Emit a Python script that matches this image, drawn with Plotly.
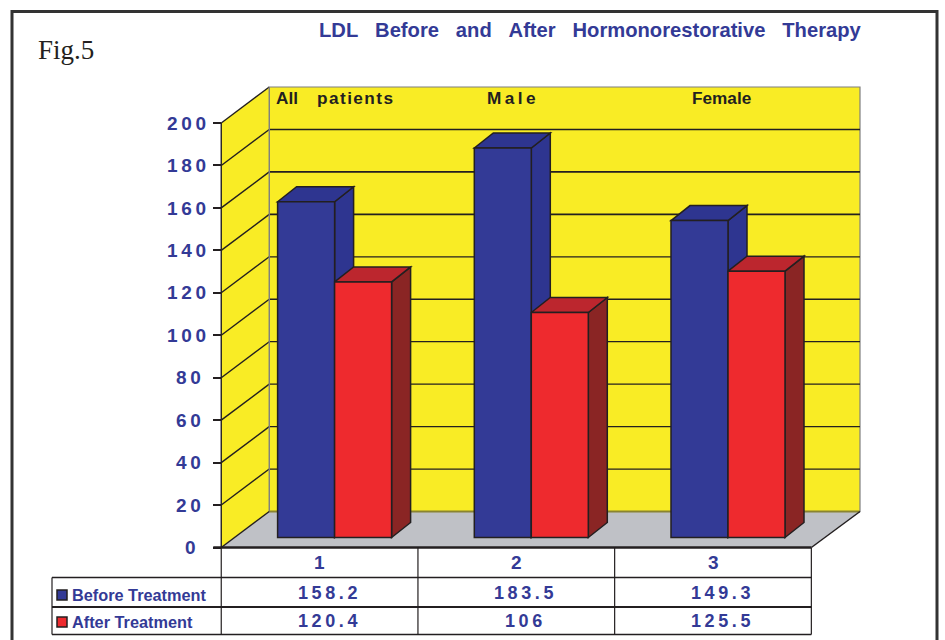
import plotly.graph_objects as go

# ---- data ----
categories = [1, 2, 3]
before_treatment = [158.2, 183.5, 149.3]
after_treatment = [120.4, 106, 125.5]
before_labels = ["158.2", "183.5", "149.3"]
after_labels = ["120.4", "106", "125.5"]
y_ticks = [0, 20, 40, 60, 80, 100, 120, 140, 160, 180, 200]
group_names = ["All\u00a0\u00a0\u00a0\u00a0p\u200aa\u200at\u200ai\u200ae\u200an\u200at\u200as", "Male", "Female"]
series_names = ["Before Treatment", "After Treatment"]
title_words = ["LDL", "Before", "and", "After", "Hormonorestorative", "Therapy"]

# ---- page / scale ----
W, H = 945, 640
PX_X0, PX_CAT = 319.6, 196.7      # pixel of category 1, pixels per category
PX_Y0, PX_UNIT = 547.5, 2.1225    # pixel of value 0, pixels per value unit


def xd(px):
    return 1 + (px - PX_X0) / PX_CAT


def yd(px):
    return (PX_Y0 - px) / PX_UNIT


def dx(px):
    return px / PX_CAT


def dy(px):
    return px / PX_UNIT


# ---- colours ----
INK = "#231f20"
TXT = "#333a96"
YEL = "#f9ec25"
FLOOR = "#bfc1c6"
GREY = "#7f7f7f"
BLUE, BLUE_TOP, BLUE_SIDE = "#333a96", "#2e3590", "#2e3590"
RED, RED_TOP, RED_SIDE = "#ee2a2e", "#bc262e", "#8a2524"

WALL_DX, WALL_DY = 48, 36
BAR_W = 57
BAR_OFF_X, BAR_OFF_Y = 15, 10
BAR_DX, BAR_DY = 19, 15

x_left = 0.5
x_right = 3.5
top_val = y_ticks[-1]


def poly(points, fill, line=INK, width=1.5):
    path = "M" + " L".join(f"{x:.5f},{y:.5f}" for x, y in points) + " Z"
    return dict(type="path", path=path, xref="x", yref="y", fillcolor=fill,
                line=dict(color=line, width=width), layer="below")


def seg(x0, y0, x1, y1, color=INK, width=1.2, layer="below"):
    return dict(type="line", xref="x", yref="y", x0=x0, y0=y0, x1=x1, y1=y1,
                line=dict(color=color, width=width), layer=layer)


wx, wy = dx(WALL_DX), dy(WALL_DY)
back_right = xd(860)
shapes = []
# back wall, left wall, floor
shapes.append(poly([(x_left + wx, wy), (back_right, wy), (back_right, top_val + wy),
                    (x_left + wx, top_val + wy)], YEL, GREY, 1.2))
shapes.append(poly([(x_left, 0), (x_left + wx, wy), (x_left + wx, top_val + wy), (x_left, top_val)],
                   YEL, "rgba(0,0,0,0)", 0))
for v in y_ticks[1:-1]:
    shapes.append(seg(x_left + wx, v + wy, back_right, v + wy, INK, 1.6 if v in (100, 140, 160, 180) else 1.2))
for v in y_ticks[1:]:
    shapes.append(seg(x_left, v, x_left + wx, v + wy, INK, 1.4))
shapes.append(seg(x_left, 0, x_left, top_val, INK, 1.4))
shapes.append(seg(x_left + wx, wy, x_left + wx, top_val + wy, GREY, 1.4))
shapes.append(poly([(x_left, 0), (x_left + wx, wy), (back_right, wy), (x_right, 0)], FLOOR, "rgba(0,0,0,0)", 0))
shapes.append(seg(x_left + wx, wy, back_right, wy, "#8a8430", 2))
shapes.append(seg(x_left, 0, x_left + wx, wy, INK, 1.5))
shapes.append(seg(x_right, 0, back_right, wy, INK, 1.5))

# bar depth faces, derived from the values
base = dy(BAR_OFF_Y)
bw = dx(BAR_W)
bdx, bdy = dx(BAR_DX), dy(BAR_DY)
off = dx(BAR_OFF_X)
for i, c in enumerate(categories):
    for vals, sgn, top_c, side_c in ((before_treatment, -1, BLUE_TOP, BLUE_SIDE),
                                     (after_treatment, 1, RED_TOP, RED_SIDE)):
        xc = c + off + sgn * bw / 2
        l, r = xc - bw / 2, xc + bw / 2
        t = base + vals[i]
        shapes.append(poly([(r, base), (r + bdx, base + bdy), (r + bdx, t + bdy), (r, t)], side_c))
        shapes.append(poly([(l, t), (l + bdx, t + bdy), (r + bdx, t + bdy), (r, t)], top_c))

# table grid
row_px = [547.5, 577.5, 607, 634.5]
table_left = xd(52)
for k, px in enumerate(row_px):
    shapes.append(seg(table_left if k else x_left - dx(8), yd(px), x_right, yd(px), INK,
                      2.6 if k == 0 else (1.8 if k == 2 else 1.3), "above"))
for k in range(4):
    xv = x_left + k
    shapes.append(seg(xv, yd(547.5), xv, yd(634.5), INK, 1.2, "above"))
shapes.append(seg(table_left, yd(577.5), table_left, yd(634.5), INK, 1.2, "above"))

# legend swatches
for py, col in ((595, BLUE), (622, RED)):
    shapes.append(dict(type="rect", xref="x", yref="y", x0=xd(57), x1=xd(67), y0=yd(py + 5), y1=yd(py - 5),
                       fillcolor=col, line=dict(color=INK, width=1.5), layer="above"))

# outer frame (paper coordinates)
shapes.append(dict(type="rect", xref="paper", yref="paper", x0=12 / W, x1=937 / W, y0=-0.05, y1=1 - 11.5 / H,
                   fillcolor="rgba(0,0,0,0)", line=dict(color="#333333", width=3), layer="above"))

fig = go.Figure()
fig.add_bar(x=[c + off - bw / 2 for c in categories], y=before_treatment, base=base, width=bw,
            name=series_names[0], marker=dict(color=BLUE, line=dict(color=INK, width=1.5)))
fig.add_bar(x=[c + off + bw / 2 for c in categories], y=after_treatment, base=base, width=bw,
            name=series_names[1], marker=dict(color=RED, line=dict(color=INK, width=1.5)))


def spread(s):
    return "\u2009".join(s)


def note(px, py, text, size=17, color=TXT, anchor="center", family="Liberation Sans", bold=True):
    return dict(x=xd(px), y=yd(py), xref="x", yref="y", text=text, showarrow=False, xanchor=anchor,
                yanchor="middle",
                font=dict(family=family, size=size, color=color, weight="bold" if bold else "normal"))


ann = [
    note(317, 29.5, "\u00a0\u00a0\u00a0".join(title_words), 20.2, anchor="left"),
    note(36, 50, "Fig.5", 27, "#231f20", "left", "Liberation Serif", False),
]
for name, px in zip(group_names, (274, 511, 721)):
    ann.append(note(px, 98, spread(name) if name == "Male" else name, 17.2, INK,
                    "left" if px == 274 else "center"))
for k, c in enumerate(categories):
    cx = PX_X0 + k * PX_CAT
    ann.append(note(cx, 562, str(c), 19))
    ann.append(note(cx + 7.5, 592.5, spread(before_labels[k]), 18))
    ann.append(note(cx + 7.5, 621, spread(after_labels[k]), 18))
ann.append(note(70, 595, series_names[0], 16.3, TXT, "left"))
ann.append(note(70, 622, series_names[1], 16.3, TXT, "left"))


def pad(v):
    s = spread(str(v))
    return s + {1: "\u00a0\u00a0", 2: "\u00a0"}.get(len(str(v)), "")


fig.update_layout(
    width=W, height=H, autosize=False, showlegend=False, barmode="overlay",
    paper_bgcolor="white", plot_bgcolor="white",
    margin=dict(l=0, r=0, t=0, b=0),
    shapes=shapes, annotations=ann,
    xaxis=dict(range=[xd(0), xd(W)], visible=False, fixedrange=True),
    yaxis=dict(range=[yd(H), yd(0)], anchor="free", position=221 / W, tickmode="array",
               tickvals=y_ticks, ticktext=[pad(v) for v in y_ticks], ticks="outside", ticklen=8,
               tickwidth=1.5, tickcolor=INK, showgrid=False, zeroline=False, showline=False,
               ticklabelstandoff=3, fixedrange=True,
               tickfont=dict(family="Liberation Sans", size=19, color=TXT, weight="bold")),
)

fig.write_html("out.html", config={"displayModeBar": False},
               post_script="document.body.style.margin='0';document.body.style.overflow='hidden';")
